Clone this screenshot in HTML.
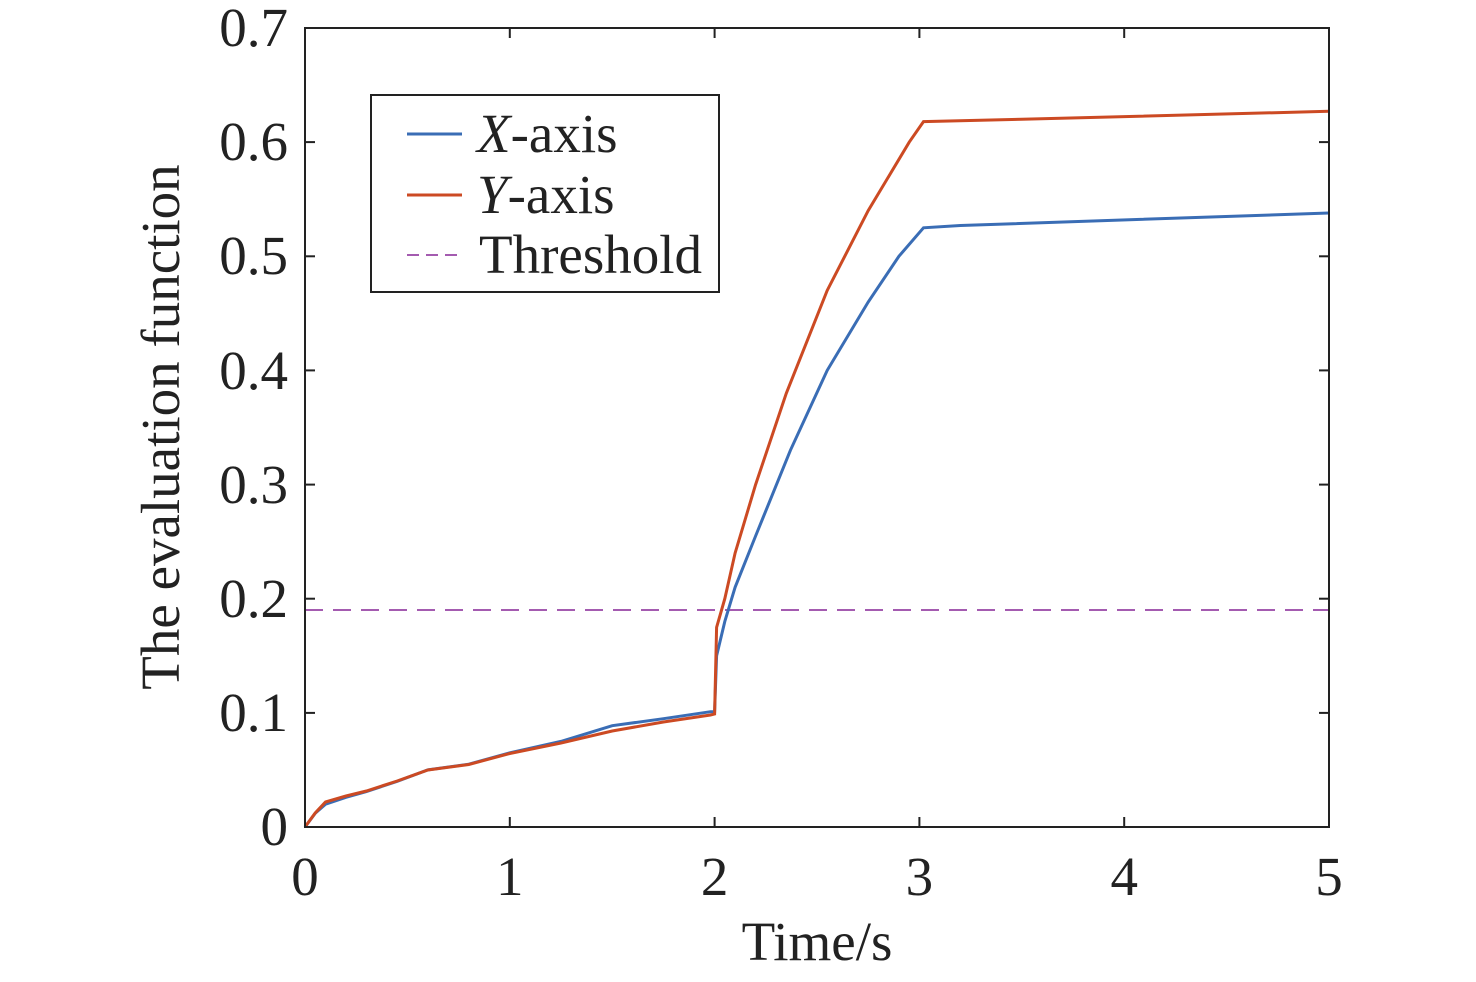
<!DOCTYPE html>
<html><head><meta charset="utf-8"><style>
html,body{margin:0;padding:0;background:#fff;}
svg text{font-family:"Liberation Serif",serif;fill:#222;}
</style></head><body>
<svg width="1476" height="977" viewBox="0 0 1476 977" xmlns="http://www.w3.org/2000/svg">
<rect width="1476" height="977" fill="#fff"/>
<line x1="305" y1="610" x2="1329" y2="610" stroke="#a45bb0" stroke-width="2" stroke-dasharray="18,10"/>
<polyline fill="none" stroke="#3a6db5" stroke-width="3" points="305,827 315.2,813.3 325.5,804.2 346,797.3 366.4,791.6 397.2,781.3 427.9,769.9 468.8,764.2 509.8,752.8 561,741.4 612.2,725.7 663.4,718.7 710.5,711.7 714.6,711.7 716.6,655.8 724.8,621.5 735.1,587.3 755.6,536 790.4,450.3 827.2,370.4 868.2,302 898.9,256.3 923.5,227.8 960.4,225.5 1329,213"/>
<polyline fill="none" stroke="#cc4a23" stroke-width="3" points="305,827 315.2,813 325.5,802 346,796 366.4,791 397.2,781 427.9,770 468.8,764.5 509.8,753.5 561,743 612.2,731 663.4,722 710.5,715 714.6,714 716.6,627.3 724.8,598.7 735.1,553.1 755.6,484.6 786.3,393.3 827.2,290.5 868.2,210.6 909.2,142.2 923.5,121.6 1021.8,119.3 1329,111.3"/>
<rect x="305" y="28" width="1024" height="799" fill="none" stroke="#222" stroke-width="2"/>
<g stroke="#222" stroke-width="2">
<line x1="509.8" y1="827" x2="509.8" y2="817"/><line x1="714.6" y1="827" x2="714.6" y2="817"/><line x1="919.4" y1="827" x2="919.4" y2="817"/><line x1="1124.2" y1="827" x2="1124.2" y2="817"/>
<line x1="509.8" y1="28" x2="509.8" y2="38"/><line x1="714.6" y1="28" x2="714.6" y2="38"/><line x1="919.4" y1="28" x2="919.4" y2="38"/><line x1="1124.2" y1="28" x2="1124.2" y2="38"/>
<line x1="305" y1="712.9" x2="315" y2="712.9"/><line x1="305" y1="598.7" x2="315" y2="598.7"/><line x1="305" y1="484.6" x2="315" y2="484.6"/><line x1="305" y1="370.4" x2="315" y2="370.4"/><line x1="305" y1="256.3" x2="315" y2="256.3"/><line x1="305" y1="142.1" x2="315" y2="142.1"/>
<line x1="1329" y1="712.9" x2="1319" y2="712.9"/><line x1="1329" y1="598.7" x2="1319" y2="598.7"/><line x1="1329" y1="484.6" x2="1319" y2="484.6"/><line x1="1329" y1="370.4" x2="1319" y2="370.4"/><line x1="1329" y1="256.3" x2="1319" y2="256.3"/><line x1="1329" y1="142.1" x2="1319" y2="142.1"/>
</g>
<g font-size="55" text-anchor="end">
<text x="288" y="845">0</text><text x="288" y="731">0.1</text><text x="288" y="617">0.2</text><text x="288" y="503">0.3</text><text x="288" y="389">0.4</text><text x="288" y="274">0.5</text><text x="288" y="160">0.6</text><text x="288" y="46">0.7</text>
</g>
<g font-size="55" text-anchor="middle">
<text x="305" y="895">0</text><text x="509.8" y="895">1</text><text x="714.6" y="895">2</text><text x="919.4" y="895">3</text><text x="1124.2" y="895">4</text><text x="1329" y="895">5</text>
<text x="817" y="960">Time/s</text>
<text transform="translate(179,427) rotate(-90)">The evaluation function</text>
</g>
<rect x="371" y="95" width="348" height="197" fill="#fff" stroke="#222" stroke-width="2"/>
<line x1="407" y1="134" x2="462" y2="134" stroke="#3a6db5" stroke-width="3"/>
<line x1="407" y1="195" x2="462" y2="195" stroke="#cc4a23" stroke-width="3"/>
<line x1="407" y1="255" x2="462" y2="255" stroke="#a45bb0" stroke-width="2" stroke-dasharray="12,7"/>
<g font-size="55">
<text x="477" y="152"><tspan font-style="italic">X</tspan>-axis</text>
<text x="477" y="213"><tspan font-style="italic">Y</tspan>-axis</text>
<text x="479" y="273">Threshold</text>
</g>
</svg>
</body></html>
